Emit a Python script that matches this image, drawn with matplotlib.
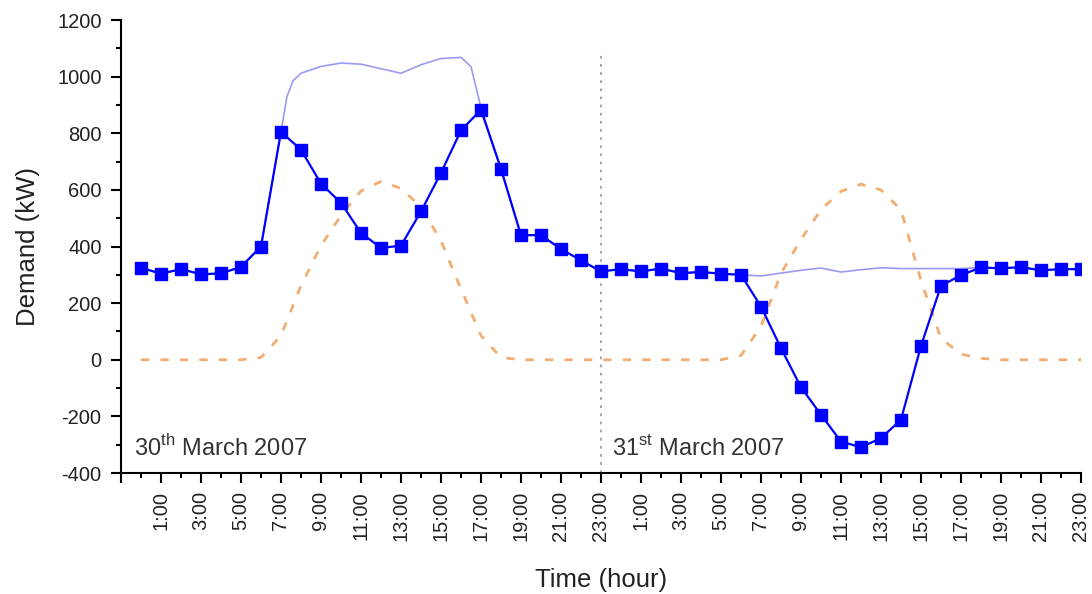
import matplotlib
matplotlib.use('Agg')
import matplotlib.pyplot as plt
import numpy as np

plt.rcParams['font.family'] = ['Liberation Sans', 'DejaVu Sans']
plt.rcParams['mathtext.fontset'] = 'custom'
plt.rcParams['mathtext.rm'] = 'Liberation Sans'
plt.rcParams['axes.unicode_minus'] = False

# hours since 0:00 on 30 March 2007
hours = np.arange(48)

# net demand seen by the grid (kW), one value per hour
net_demand = [325, 304, 320, 302, 305, 328, 400, 805, 742, 622, 554, 448,
              395, 403, 524, 660, 810, 883, 674, 440, 440, 391, 351, 312,
              320, 312, 322, 306, 310, 304, 300, 188, 41, -97, -194, -289,
              -309, -277, -212, 49, 261, 299, 326, 323, 327, 316, 320, 320]

# load demand (kW), a couple of extra readings where the curve bends
load_hours = [0, 1, 2, 3, 4, 5, 6, 7, 7.3, 7.6, 8, 9, 10, 11, 12, 13, 14,
              15, 16, 16.5, 17, 18, 19, 20, 21, 22, 23, 24, 25, 26, 27, 28,
              29, 30, 31, 32, 33, 34, 35, 36, 37, 38, 39, 40, 41, 42, 43,
              44, 45, 46, 47]
load_demand = [325, 304, 320, 302, 305, 328, 400, 805, 930, 985, 1012, 1036,
               1048, 1044, 1028, 1012, 1042, 1064, 1068, 1035, 890, 674,
               440, 440, 391, 351, 312, 320, 312, 322, 306, 310, 304, 300,
               296, 306, 316, 324, 310, 318, 325, 322, 322, 322, 322, 326,
               323, 327, 316, 320, 320]

# PV generation (kW)
pv_output = [0, 0, 0, 0, 0, 0, 8, 85, 262, 403, 510, 596, 630, 605, 540,
             420, 250, 85, 8, 0, 0, 0, 0, 0, 0, 0, 0, 0, 0, 0, 15, 118, 305,
             425, 530, 595, 620, 600, 530, 280, 75, 20, 5, 0, 0, 0, 0, 0]

tick_hours = np.arange(-1, 48, 2)
tick_labels = ['' if h < 0 else '%d:00' % (h % 24) for h in tick_hours]

day_break = 23
day_labels = ['30$^{\\rm th}$ March 2007', '31$^{\\rm st}$ March 2007']
day_label_x = [-0.35, 23.55]

fig = plt.figure(figsize=(10.92, 5.94), dpi=100)
ax = fig.add_axes([0.1108, 0.2037, 0.8791, 0.7626])

ax.plot(hours, pv_output, color='#F2AE72', lw=2, dashes=(3, 4), zorder=2)
ax.plot(load_hours, load_demand, color='#9A9AF2', lw=1.2, zorder=3)
ax.plot(hours, net_demand, color='#0000FF', lw=1.6, marker='s',
        markersize=8.5, zorder=4)

ax.vlines(day_break, -400, 1090, colors='#A0A0A0', linestyles=(0, (1.5, 3)),
          lw=1.3, zorder=1)

for x, s in zip(day_label_x, day_labels):
    ax.text(x, -310, s, fontsize=17, color='#333333', va='center', ha='left')

ax.set_xlim(-1, 47)
ax.set_ylim(-400, 1200)
ax.set_xticks(tick_hours)
ax.set_xticklabels(tick_labels, rotation=90)
ax.set_xticks(np.arange(0, 48, 2), minor=True)
ax.set_yticks(np.arange(-400, 1201, 200))
ax.set_yticks(np.arange(-300, 1200, 200), minor=True)

for side in ['top', 'right']:
    ax.spines[side].set_visible(False)
for side in ['left', 'bottom']:
    ax.spines[side].set_linewidth(1.5)

ax.tick_params(which='major', direction='out', length=7, width=1.5,
               labelsize=14.5, labelcolor='#222222')
ax.tick_params(which='minor', direction='out', length=3.5, width=1.5)
ax.tick_params(axis='x', which='major', pad=6)
ax.tick_params(axis='y', which='major', pad=7)

ax.set_xlabel('Time (hour)', fontsize=18.5, color='#222222', labelpad=19)
ax.set_ylabel('Demand (kW)', fontsize=18.5, color='#222222', labelpad=12)

fig.savefig('out.png', dpi=100)
